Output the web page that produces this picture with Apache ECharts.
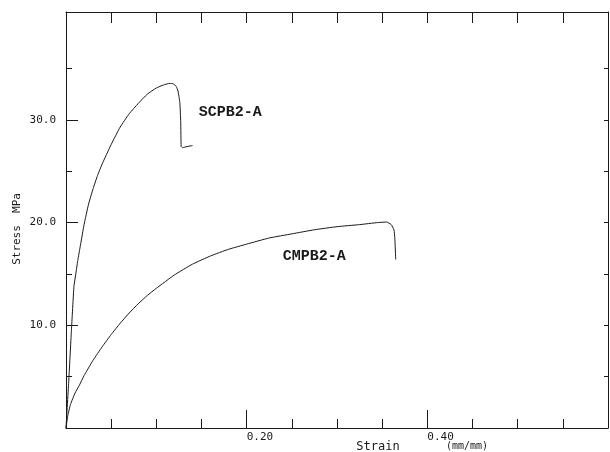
<!DOCTYPE html>
<html lang="en">
<head>
    <meta charset="UTF-8">
    <title>Stress - Strain</title>
    <script src="https://cdn.jsdelivr.net/npm/echarts@6/dist/echarts.min.js"></script>
</head>
<body style="margin:0;background:#fff;">
    <div id="chart" style="width:610px;height:452px;"></div>
    <script>
        // curve data: [strain mm/mm, stress MPa]
        var scpbData = [
            [0, 0], [0.003, 4.5], [0.006, 9.5], [0.0088, 13.8], [0.0105, 14.8],
            [0.013, 16.3], [0.016, 17.8], [0.020, 19.8], [0.025, 21.8], [0.030, 23.3],
            [0.035, 24.6], [0.040, 25.7], [0.050, 27.6], [0.060, 29.3], [0.070, 30.6],
            [0.080, 31.6], [0.090, 32.5], [0.100, 33.1], [0.108, 33.4], [0.115, 33.55],
            [0.119, 33.5], [0.122, 33.25], [0.124, 32.8], [0.126, 31.7], [0.127, 29.8],
            [0.1275, 27.4], [0.129, 27.3], [0.134, 27.4], [0.140, 27.5]
        ];
        var cmpbData = [
            [0, 0], [0.002, 1.2], [0.005, 2.3], [0.010, 3.4], [0.015, 4.2],
            [0.020, 5.1], [0.030, 6.6], [0.040, 7.9], [0.050, 9.1], [0.060, 10.2],
            [0.070, 11.2], [0.080, 12.1], [0.090, 12.9], [0.100, 13.6], [0.120, 14.9],
            [0.140, 15.95], [0.160, 16.75], [0.180, 17.4], [0.200, 17.9], [0.225, 18.5],
            [0.250, 18.9], [0.275, 19.3], [0.300, 19.6], [0.325, 19.8], [0.345, 20.0],
            [0.355, 20.05], [0.360, 19.8], [0.363, 19.3], [0.364, 18.5], [0.365, 16.4]
        ];
        var seriesNames = ["SCPB2-A", "CMPB2-A"];
        var labelCoords = [[0.147, 30.7], [0.240, 16.7]];

        // ticks
        var xMajorTicks = [0.2, 0.4];
        var xMinorTicks = [0.05, 0.1, 0.15, 0.25, 0.3, 0.35, 0.45, 0.5, 0.55];
        var xTopTicks = [0.05, 0.1, 0.15, 0.2, 0.25, 0.3, 0.35, 0.4, 0.45, 0.5, 0.55];
        var yMajorTicks = [10, 20, 30];
        var yMinorTicks = [5, 15, 25, 35];
        var yRightTicks = [5, 10, 15, 20, 25, 30, 35];

        var X_MAX = 0.6, Y_MAX = 40.5;
        var ink = "#1a1a1a";
        var tickFont = "DejaVu Sans Mono";
        var curveLabelFont = "Liberation Mono";

        var myChart = echarts.init(document.getElementById("chart"));

        function valueAxis(extra, max) {
            return Object.assign({
                type: "value",
                min: 0,
                max: max,
                splitLine: { show: false },
                axisLine: { show: false, lineStyle: { color: ink, width: 1 } },
                axisTick: { show: false },
                axisLabel: { show: false }
            }, extra);
        }

        function curveSeries(i, data) {
            return {
                name: seriesNames[i],
                type: "line",
                data: data,
                showSymbol: false,
                symbol: "none",
                smooth: 0.15,
                lineStyle: { color: ink, width: 1 },
                animation: false,
                markPoint: {
                    symbol: "circle",
                    symbolSize: 0,
                    silent: true,
                    data: [{ coord: labelCoords[i] }],
                    label: {
                        show: true,
                        position: "right",
                        distance: 0,
                        formatter: seriesNames[i],
                        fontFamily: curveLabelFont,
                        fontWeight: "bold",
                        fontSize: 15,
                        color: ink
                    }
                }
            };
        }

        var option = {
            backgroundColor: "#fff",
            animation: false,
            grid: { left: 66, right: 2, top: 12, bottom: 24 },
            xAxis: [
                valueAxis({
                    position: "bottom",
                    axisLine: { show: true, onZero: false, lineStyle: { color: ink } },
                    axisTick: { show: true, inside: true, length: 18, customValues: xMajorTicks, lineStyle: { color: ink } },
                    axisLabel: {
                        show: true, customValues: xMajorTicks, align: "left", margin: 4,
                        fontFamily: tickFont, fontSize: 11, color: ink,
                        formatter: function (v) { return v.toFixed(2); }
                    }
                }, X_MAX),
                valueAxis({
                    position: "bottom",
                    axisTick: { show: true, inside: true, length: 9, customValues: xMinorTicks, lineStyle: { color: ink } }
                }, X_MAX),
                valueAxis({
                    position: "top",
                    axisLine: { show: true, onZero: false, lineStyle: { color: ink } },
                    axisTick: { show: true, inside: true, length: 11, customValues: xTopTicks, lineStyle: { color: ink } }
                }, X_MAX)
            ],
            yAxis: [
                valueAxis({
                    position: "left",
                    axisLine: { show: true, onZero: false, lineStyle: { color: ink } },
                    axisTick: { show: true, inside: true, length: 12, customValues: yMajorTicks, lineStyle: { color: ink } },
                    axisLabel: {
                        show: true, customValues: yMajorTicks, margin: 10,
                        fontFamily: tickFont, fontSize: 11, color: ink,
                        formatter: function (v) { return v.toFixed(1); }
                    }
                }, Y_MAX),
                valueAxis({
                    position: "left",
                    axisTick: { show: true, inside: true, length: 6, customValues: yMinorTicks, lineStyle: { color: ink } }
                }, Y_MAX),
                valueAxis({
                    position: "right",
                    axisLine: { show: true, onZero: false, lineStyle: { color: ink } },
                    axisTick: { show: true, inside: true, length: 4, customValues: yRightTicks, lineStyle: { color: ink } }
                }, Y_MAX)
            ],
            graphic: [
                {
                    type: "text", x: 17, y: 245, rotation: Math.PI / 2,
                    style: { text: "Stress", fontFamily: tickFont, fontSize: 11, fill: ink, align: "center", verticalAlign: "middle" }
                },
                {
                    type: "text", x: 17, y: 203, rotation: Math.PI / 2,
                    style: { text: "MPa", fontFamily: tickFont, fontSize: 11, fill: ink, align: "center", verticalAlign: "middle" }
                },
                {
                    type: "text", x: 378, y: 447,
                    style: { text: "Strain", fontFamily: tickFont, fontSize: 12, fill: ink, align: "center", verticalAlign: "middle" }
                },
                {
                    type: "text", x: 467, y: 446,
                    style: { text: "(mm/mm)", fontFamily: tickFont, fontSize: 10, fill: ink, align: "center", verticalAlign: "middle" }
                }
            ],
            series: [
                curveSeries(0, scpbData),
                curveSeries(1, cmpbData)
            ]
        };
        myChart.setOption(option);
    </script>
</body>
</html>
